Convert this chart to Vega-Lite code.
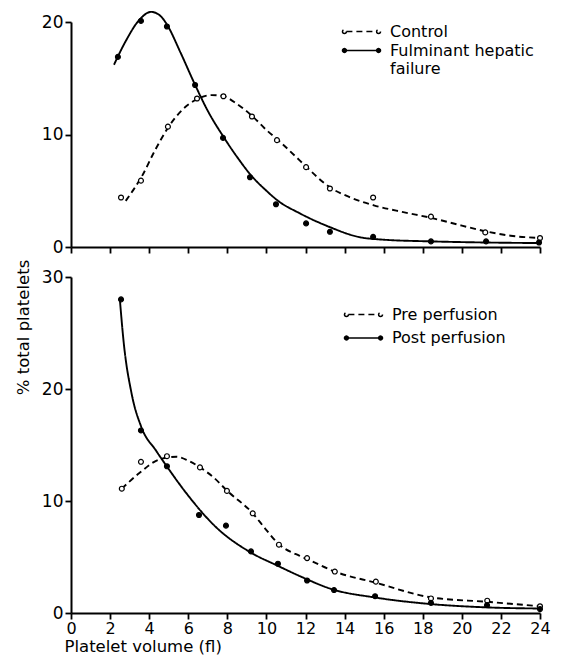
{
  "$schema": "https://vega.github.io/schema/vega-lite/v6.json",
  "padding": {"left": 14, "top": 8, "right": 5, "bottom": 4},
  "bounds": "flush",
  "spacing": 30,
  "config": {
    "font": "DejaVu Sans",
    "view": {"stroke": null},
    "axis": {"grid": false, "domainColor": "black", "domainWidth": 2, "tickColor": "black", "tickWidth": 1.8, "tickSize": 6, "labelColor": "black", "labelFontSize": 17, "labelFont": "DejaVu Sans", "titleColor": "black", "titleFontSize": 16.5, "titleFontWeight": "normal", "titleFont": "DejaVu Sans", "labelPadding": 2, "labelOverlap": false, "labelFlush": false},
    "legend": {"orient": "none", "title": null, "labelFontSize": 16, "labelFont": "DejaVu Sans", "labelColor": "black", "padding": 0, "labelLimit": 300, "symbolType": "M-1.55,0H1.55M-1.95,0a0.2,0.2 0 1,0 0.4,0a0.2,0.2 0 1,0 -0.4,0M1.55,0a0.2,0.2 0 1,0 0.4,0a0.2,0.2 0 1,0 -0.4,0", "symbolSize": 380, "symbolStrokeWidth": 1.5, "symbolStrokeColor": "black", "labelOffset": 18}
  },
  "resolve": {"scale": {"x": "independent", "y": "independent", "strokeDash": "independent", "fill": "independent"}},
  "datasets": {
    "points": [
      {"panel": "A", "series": "Control", "x": 2.56, "y": 4.4},
      {"panel": "A", "series": "Control", "x": 3.58, "y": 5.9},
      {"panel": "A", "series": "Control", "x": 4.96, "y": 10.7},
      {"panel": "A", "series": "Control", "x": 6.45, "y": 13.2},
      {"panel": "A", "series": "Control", "x": 7.8, "y": 13.4},
      {"panel": "A", "series": "Control", "x": 9.26, "y": 11.6},
      {"panel": "A", "series": "Control", "x": 10.54, "y": 9.5},
      {"panel": "A", "series": "Control", "x": 12.03, "y": 7.1},
      {"panel": "A", "series": "Control", "x": 13.25, "y": 5.2},
      {"panel": "A", "series": "Control", "x": 15.46, "y": 4.4},
      {"panel": "A", "series": "Control", "x": 18.42, "y": 2.7},
      {"panel": "A", "series": "Control", "x": 21.2, "y": 1.3},
      {"panel": "A", "series": "Control", "x": 24, "y": 0.8},
      {"panel": "A", "series": "Fulminant hepatic failure", "x": 2.4, "y": 16.9},
      {"panel": "A", "series": "Fulminant hepatic failure", "x": 3.58, "y": 20.1},
      {"panel": "A", "series": "Fulminant hepatic failure", "x": 4.91, "y": 19.6},
      {"panel": "A", "series": "Fulminant hepatic failure", "x": 6.35, "y": 14.4},
      {"panel": "A", "series": "Fulminant hepatic failure", "x": 7.78, "y": 9.7},
      {"panel": "A", "series": "Fulminant hepatic failure", "x": 9.16, "y": 6.2},
      {"panel": "A", "series": "Fulminant hepatic failure", "x": 10.49, "y": 3.8},
      {"panel": "A", "series": "Fulminant hepatic failure", "x": 12.03, "y": 2.1},
      {"panel": "A", "series": "Fulminant hepatic failure", "x": 13.25, "y": 1.35},
      {"panel": "A", "series": "Fulminant hepatic failure", "x": 15.46, "y": 0.9},
      {"panel": "A", "series": "Fulminant hepatic failure", "x": 18.42, "y": 0.5},
      {"panel": "A", "series": "Fulminant hepatic failure", "x": 21.24, "y": 0.5},
      {"panel": "A", "series": "Fulminant hepatic failure", "x": 23.95, "y": 0.4},
      {"panel": "B", "series": "Pre perfusion", "x": 2.6, "y": 11.1},
      {"panel": "B", "series": "Pre perfusion", "x": 3.58, "y": 13.5},
      {"panel": "B", "series": "Pre perfusion", "x": 4.91, "y": 14.0},
      {"panel": "B", "series": "Pre perfusion", "x": 6.6, "y": 13.0},
      {"panel": "B", "series": "Pre perfusion", "x": 7.98, "y": 10.9},
      {"panel": "B", "series": "Pre perfusion", "x": 9.3, "y": 8.9},
      {"panel": "B", "series": "Pre perfusion", "x": 10.64, "y": 6.1},
      {"panel": "B", "series": "Pre perfusion", "x": 12.08, "y": 4.9},
      {"panel": "B", "series": "Pre perfusion", "x": 13.5, "y": 3.7},
      {"panel": "B", "series": "Pre perfusion", "x": 15.6, "y": 2.8},
      {"panel": "B", "series": "Pre perfusion", "x": 18.42, "y": 1.3},
      {"panel": "B", "series": "Pre perfusion", "x": 21.3, "y": 1.1},
      {"panel": "B", "series": "Pre perfusion", "x": 24, "y": 0.6},
      {"panel": "B", "series": "Post perfusion", "x": 2.56, "y": 28.0},
      {"panel": "B", "series": "Post perfusion", "x": 3.58, "y": 16.3},
      {"panel": "B", "series": "Post perfusion", "x": 4.91, "y": 13.1},
      {"panel": "B", "series": "Post perfusion", "x": 6.55, "y": 8.75},
      {"panel": "B", "series": "Post perfusion", "x": 7.93, "y": 7.8},
      {"panel": "B", "series": "Post perfusion", "x": 9.21, "y": 5.5},
      {"panel": "B", "series": "Post perfusion", "x": 10.59, "y": 4.4},
      {"panel": "B", "series": "Post perfusion", "x": 12.08, "y": 2.9},
      {"panel": "B", "series": "Post perfusion", "x": 13.46, "y": 2.05},
      {"panel": "B", "series": "Post perfusion", "x": 15.56, "y": 1.5},
      {"panel": "B", "series": "Post perfusion", "x": 18.42, "y": 0.9},
      {"panel": "B", "series": "Post perfusion", "x": 21.29, "y": 0.7},
      {"panel": "B", "series": "Post perfusion", "x": 24, "y": 0.35}
    ],
    "curves": [
      {"panel": "A", "series": "Control", "x": 2.8, "y": 4.1},
      {"panel": "A", "series": "Control", "x": 3.2, "y": 5.1},
      {"panel": "A", "series": "Control", "x": 3.6, "y": 6.2},
      {"panel": "A", "series": "Control", "x": 4.3, "y": 8.6},
      {"panel": "A", "series": "Control", "x": 5.0, "y": 10.7},
      {"panel": "A", "series": "Control", "x": 5.7, "y": 12.2},
      {"panel": "A", "series": "Control", "x": 6.4, "y": 13.1},
      {"panel": "A", "series": "Control", "x": 7.2, "y": 13.5},
      {"panel": "A", "series": "Control", "x": 7.8, "y": 13.4},
      {"panel": "A", "series": "Control", "x": 8.5, "y": 12.7},
      {"panel": "A", "series": "Control", "x": 9.3, "y": 11.6},
      {"panel": "A", "series": "Control", "x": 10.0, "y": 10.4},
      {"panel": "A", "series": "Control", "x": 10.6, "y": 9.5},
      {"panel": "A", "series": "Control", "x": 11.7, "y": 7.7},
      {"panel": "A", "series": "Control", "x": 12.0, "y": 7.2},
      {"panel": "A", "series": "Control", "x": 13.25, "y": 5.3},
      {"panel": "A", "series": "Control", "x": 14.3, "y": 4.4},
      {"panel": "A", "series": "Control", "x": 15.5, "y": 3.7},
      {"panel": "A", "series": "Control", "x": 17.0, "y": 3.1},
      {"panel": "A", "series": "Control", "x": 18.4, "y": 2.6},
      {"panel": "A", "series": "Control", "x": 20.0, "y": 1.9},
      {"panel": "A", "series": "Control", "x": 21.2, "y": 1.4},
      {"panel": "A", "series": "Control", "x": 22.5, "y": 1.0},
      {"panel": "A", "series": "Control", "x": 24, "y": 0.8},
      {"panel": "A", "series": "Fulminant hepatic failure", "x": 2.2, "y": 16.2},
      {"panel": "A", "series": "Fulminant hepatic failure", "x": 2.8, "y": 18.3},
      {"panel": "A", "series": "Fulminant hepatic failure", "x": 3.5, "y": 20.2},
      {"panel": "A", "series": "Fulminant hepatic failure", "x": 4.1, "y": 20.9},
      {"panel": "A", "series": "Fulminant hepatic failure", "x": 4.6, "y": 20.5},
      {"panel": "A", "series": "Fulminant hepatic failure", "x": 4.9, "y": 19.8},
      {"panel": "A", "series": "Fulminant hepatic failure", "x": 5.6, "y": 17.3},
      {"panel": "A", "series": "Fulminant hepatic failure", "x": 6.3, "y": 14.6},
      {"panel": "A", "series": "Fulminant hepatic failure", "x": 7.0, "y": 12.1},
      {"panel": "A", "series": "Fulminant hepatic failure", "x": 7.8, "y": 9.8},
      {"panel": "A", "series": "Fulminant hepatic failure", "x": 8.5, "y": 8.0},
      {"panel": "A", "series": "Fulminant hepatic failure", "x": 9.2, "y": 6.4},
      {"panel": "A", "series": "Fulminant hepatic failure", "x": 10.0, "y": 5.0},
      {"panel": "A", "series": "Fulminant hepatic failure", "x": 10.6, "y": 4.1},
      {"panel": "A", "series": "Fulminant hepatic failure", "x": 11.7, "y": 3.0},
      {"panel": "A", "series": "Fulminant hepatic failure", "x": 13.2, "y": 1.8},
      {"panel": "A", "series": "Fulminant hepatic failure", "x": 14.7, "y": 0.9},
      {"panel": "A", "series": "Fulminant hepatic failure", "x": 16.0, "y": 0.65},
      {"panel": "A", "series": "Fulminant hepatic failure", "x": 18.4, "y": 0.5},
      {"panel": "A", "series": "Fulminant hepatic failure", "x": 21.2, "y": 0.4},
      {"panel": "A", "series": "Fulminant hepatic failure", "x": 24, "y": 0.35},
      {"panel": "B", "series": "Pre perfusion", "x": 2.6, "y": 11.1},
      {"panel": "B", "series": "Pre perfusion", "x": 3.5, "y": 12.5},
      {"panel": "B", "series": "Pre perfusion", "x": 4.5, "y": 13.7},
      {"panel": "B", "series": "Pre perfusion", "x": 5.4, "y": 13.95},
      {"panel": "B", "series": "Pre perfusion", "x": 6.0, "y": 13.6},
      {"panel": "B", "series": "Pre perfusion", "x": 6.6, "y": 13.0},
      {"panel": "B", "series": "Pre perfusion", "x": 7.3, "y": 12.1},
      {"panel": "B", "series": "Pre perfusion", "x": 8.0, "y": 10.9},
      {"panel": "B", "series": "Pre perfusion", "x": 9.3, "y": 8.9},
      {"panel": "B", "series": "Pre perfusion", "x": 10.0, "y": 7.4},
      {"panel": "B", "series": "Pre perfusion", "x": 10.6, "y": 6.2},
      {"panel": "B", "series": "Pre perfusion", "x": 11.7, "y": 5.1},
      {"panel": "B", "series": "Pre perfusion", "x": 12.1, "y": 4.8},
      {"panel": "B", "series": "Pre perfusion", "x": 13.5, "y": 3.7},
      {"panel": "B", "series": "Pre perfusion", "x": 15.6, "y": 2.7},
      {"panel": "B", "series": "Pre perfusion", "x": 18.4, "y": 1.4},
      {"panel": "B", "series": "Pre perfusion", "x": 21.3, "y": 1.0},
      {"panel": "B", "series": "Pre perfusion", "x": 24, "y": 0.6},
      {"panel": "B", "series": "Post perfusion", "x": 2.5, "y": 28.0},
      {"panel": "B", "series": "Post perfusion", "x": 2.7, "y": 24.1},
      {"panel": "B", "series": "Post perfusion", "x": 3.1, "y": 19.6},
      {"panel": "B", "series": "Post perfusion", "x": 3.6, "y": 16.6},
      {"panel": "B", "series": "Post perfusion", "x": 4.35, "y": 14.5},
      {"panel": "B", "series": "Post perfusion", "x": 4.9, "y": 13.1},
      {"panel": "B", "series": "Post perfusion", "x": 5.9, "y": 10.7},
      {"panel": "B", "series": "Post perfusion", "x": 7.4, "y": 7.7},
      {"panel": "B", "series": "Post perfusion", "x": 9.2, "y": 5.4},
      {"panel": "B", "series": "Post perfusion", "x": 10.6, "y": 4.2},
      {"panel": "B", "series": "Post perfusion", "x": 11.7, "y": 3.3},
      {"panel": "B", "series": "Post perfusion", "x": 13.4, "y": 2.1},
      {"panel": "B", "series": "Post perfusion", "x": 15.5, "y": 1.4},
      {"panel": "B", "series": "Post perfusion", "x": 18.4, "y": 0.8},
      {"panel": "B", "series": "Post perfusion", "x": 21.3, "y": 0.5},
      {"panel": "B", "series": "Post perfusion", "x": 24, "y": 0.4}
    ]
  },
  "vconcat": [
    {
      "width": 469,
      "height": 225,
      "encoding": {
        "x": {"field": "x", "type": "quantitative", "scale": {"domain": [0, 24], "nice": false}, "axis": {"values": [0, 2, 4, 6, 8, 10, 12, 14, 16, 18, 20, 22, 24], "labels": false, "title": null}},
        "y": {"field": "y", "type": "quantitative", "scale": {"domain": [0, 20], "nice": false}, "axis": {"values": [0, 10, 20], "title": null, "labelOverlap": false}}
      },
      "layer": [
        {
          "data": {"name": "curves"},
          "transform": [{"filter": "datum.panel == 'A'"}],
          "mark": {"type": "line", "interpolate": "monotone", "color": "black", "strokeWidth": 1.9},
          "encoding": {
            "detail": {"field": "series"},
            "strokeDash": {"field": "series", "type": "nominal", "scale": {"domain": ["Control", "Fulminant hepatic failure"], "range": [[6, 4], [1, 0]]}, "legend": {"legendX": 280, "legendY": -1, "rowPadding": 0, "labelExpr": "datum.label == 'Fulminant hepatic failure' ? ['Fulminant hepatic', 'failure'] : datum.label"}}
          }
        },
        {
          "data": {"name": "points"},
          "transform": [{"filter": "datum.panel == 'A'"}],
          "mark": {"type": "point", "shape": "circle", "stroke": "black", "strokeWidth": 1.2, "opacity": 1, "size": 24},
          "encoding": {
            "fill": {"field": "series", "type": "nominal", "scale": {"domain": ["Control", "Fulminant hepatic failure"], "range": ["white", "black"]}, "legend": null}
          }
        }
      ]
    },
    {
      "width": 469,
      "height": 336,
      "encoding": {
        "x": {"field": "x", "type": "quantitative", "scale": {"domain": [0, 24], "nice": false}, "axis": {"values": [0, 2, 4, 6, 8, 10, 12, 14, 16, 18, 20, 22, 24], "labelOverlap": false, "labelFontSize": 16, "labelPadding": 1, "title": "Platelet volume (fl)", "titleX": -7, "titleY": 25, "titleAlign": "left", "titleBaseline": "top"}},
        "y": {"field": "y", "type": "quantitative", "scale": {"domain": [0, 30], "nice": false}, "axis": {"values": [0, 10, 20, 30], "labelOverlap": false, "title": "% total platelets", "titleX": -40, "titleY": 50}}
      },
      "layer": [
        {
          "data": {"name": "curves"},
          "transform": [{"filter": "datum.panel == 'B'"}],
          "mark": {"type": "line", "interpolate": "monotone", "color": "black", "strokeWidth": 1.9},
          "encoding": {
            "detail": {"field": "series"},
            "strokeDash": {"field": "series", "type": "nominal", "scale": {"domain": ["Pre perfusion", "Post perfusion"], "range": [[6, 4], [1, 0]]}, "legend": {"legendX": 282, "legendY": 27, "rowPadding": 4.5}}
          }
        },
        {
          "data": {"name": "points"},
          "transform": [{"filter": "datum.panel == 'B'"}],
          "mark": {"type": "point", "shape": "circle", "stroke": "black", "strokeWidth": 1.2, "opacity": 1, "size": 24},
          "encoding": {
            "fill": {"field": "series", "type": "nominal", "scale": {"domain": ["Pre perfusion", "Post perfusion"], "range": ["white", "black"]}, "legend": null}
          }
        }
      ]
    }
  ]
}
